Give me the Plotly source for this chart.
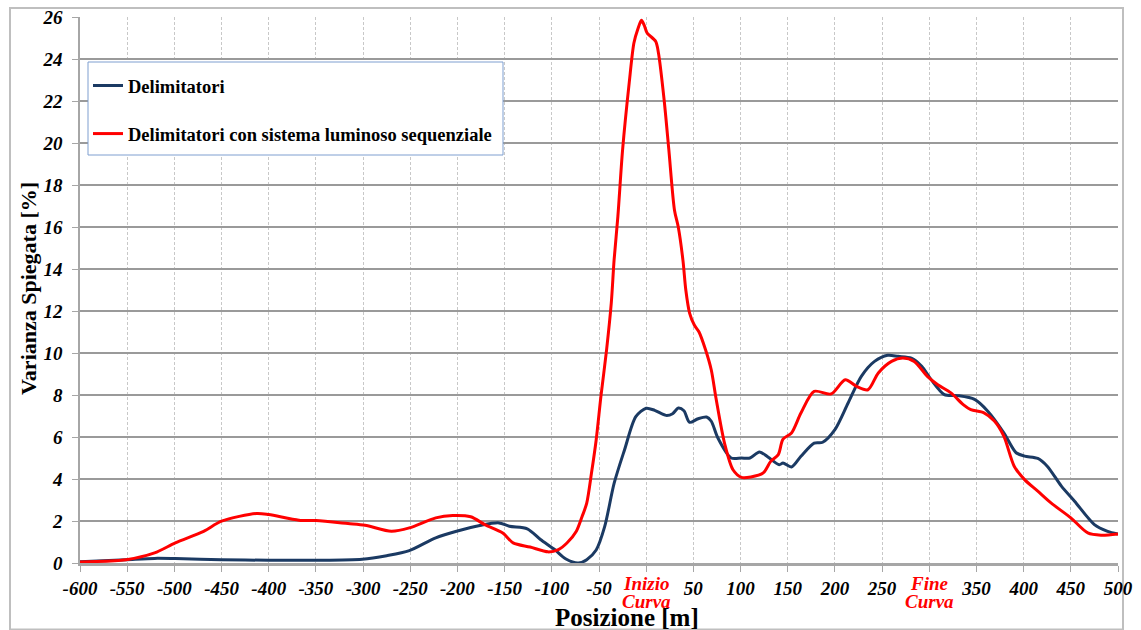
import plotly.graph_objects as go

# Posizione [m] and varianza spiegata [%] for the two configurations
pos_delim = [-600, -551, -521, -499, -450, -400, -351, -301, -275, -251, -223, -201, -175, -156,
             -145, -126, -112, -97, -85, -72, -63, -53, -44, -34, -23, -11, 0, 9, 21, 28, 34,
             40, 46, 55, 64, 69, 76, 90, 101, 110, 120, 129, 141, 145, 154, 164, 178, 187, 200,
             214, 228, 242, 256, 267, 281, 292, 302, 316, 330, 348, 362, 379, 392, 401, 415,
             425, 440, 454, 475, 489, 500]
var_delim = [0.06, 0.16, 0.22, 0.21, 0.16, 0.13, 0.13, 0.18, 0.35, 0.59, 1.2, 1.51, 1.80, 1.91,
             1.75, 1.63, 1.12, 0.64, 0.19, 0.0, 0.16, 0.62, 1.73, 3.79, 5.38, 6.97, 7.37, 7.27,
             7.03, 7.11, 7.38, 7.25, 6.70, 6.87, 6.95, 6.75, 5.95, 5.0, 5.0, 5.0, 5.29, 5.05,
             4.68, 4.76, 4.57, 5.08, 5.71, 5.75, 6.35, 7.62, 8.89, 9.6, 9.89, 9.84, 9.76, 9.37,
             8.73, 8.02, 7.97, 7.79, 7.23, 6.2, 5.25, 5.09, 4.98, 4.61, 3.66, 2.94, 1.83, 1.51,
             1.38]

pos_seq = [-600, -551, -521, -499, -469, -450, -413, -400, -368, -350, -316, -298, -270, -251,
           -223, -205, -186, -171, -152, -141, -123, -104, -93, -84, -74, -68, -63, -58, -53,
           -48, -42, -37, -34, -30, -25, -18, -13, -9, -5, -2, 1, 10, 13, 19, 24, 30, 34, 39,
           42, 46, 51, 56, 63, 69, 74, 83, 92, 101, 111, 124, 132, 140, 145, 154, 164, 178,
           196, 211, 223, 235, 246, 260, 272, 284, 298, 309, 323, 336, 344, 358, 369, 379, 390,
           401, 415, 429, 450, 468, 482, 500]
var_seq = [0.05, 0.16, 0.48, 0.96, 1.51, 1.99, 2.36, 2.31, 2.04, 2.02, 1.88, 1.80, 1.51, 1.67,
           2.15, 2.26, 2.20, 1.83, 1.43, 0.96, 0.76, 0.53, 0.64, 0.95, 1.51, 2.2, 2.85, 4.27,
           5.86, 7.92, 10.14, 12.37, 14.43, 16.5, 19.67, 22.86, 24.76, 25.4, 25.84, 25.6, 25.24,
           24.84, 24.29, 22.06, 19.68, 16.8, 16.0, 14.4, 13.0, 11.9, 11.33, 11.0, 10.14, 9.19,
           7.84, 5.71, 4.44, 4.08, 4.10, 4.29, 4.84, 5.16, 5.90, 6.19, 7.14, 8.17, 8.05, 8.73,
           8.41, 8.25, 9.05, 9.6, 9.76, 9.6, 8.89, 8.49, 8.1, 7.54, 7.3, 7.15, 6.76, 6.04, 4.61,
           3.97, 3.42, 2.86, 2.15, 1.43, 1.32, 1.38]

# x tick labels; the curve start / end positions get a two-line red label instead
x_ticks = list(range(-600, 501, 50))
curve_marks = {0: ("Inizio", "Curva"), 300: ("Fine", "Curva")}
x_labels = ["" if v in curve_marks else str(v) for v in x_ticks]

series_names = ["Delimitatori", "Delimitatori con sistema luminoso sequenziale"]

SERIF = "Liberation Serif"
W, H = 1141, 630
L, R, T, B = 80, 23, 17, 67
pw, ph = W - L - R, H - T - B


def px_to_paper_x(px):
    return (px - L) / pw


def px_to_paper_y(py):
    return (H - B - py) / ph


fig = go.Figure()
fig.add_trace(go.Scatter(
    x=pos_delim, y=var_delim, mode="lines", name=series_names[0],
    line=dict(color="#1b3a63", width=3, shape="spline", smoothing=0.8),
    legendgroup="a"))
fig.add_trace(go.Scatter(
    x=pos_seq, y=var_seq, mode="lines", name=series_names[1],
    line=dict(color="#ff0000", width=3, shape="spline", smoothing=0.8),
    legendgroup="b"))

# outer chart frame and legend box
fig.add_shape(type="rect", xref="paper", yref="paper",
              x0=px_to_paper_x(10), x1=px_to_paper_x(1123),
              y0=px_to_paper_y(629.5), y1=px_to_paper_y(8),
              line=dict(color="#bfbfbf", width=2), fillcolor="rgba(0,0,0,0)", layer="below")
fig.add_shape(type="rect", xref="paper", yref="paper",
              x0=px_to_paper_x(88), x1=px_to_paper_x(503),
              y0=px_to_paper_y(155), y1=px_to_paper_y(62),
              line=dict(color="#7f9fd0", width=1), fillcolor="white", layer="above")

label_font = dict(family=SERIF, size=19, color="#ff0000", weight="bold", style="italic")
for xv, (first, second) in curve_marks.items():
    fig.add_annotation(text=first, x=xv, xref="x", yref="paper", y=px_to_paper_y(583),
                       showarrow=False, xanchor="center", yanchor="middle", font=label_font)
    fig.add_annotation(text=second, x=xv, xref="x", yref="paper", y=px_to_paper_y(601),
                       showarrow=False, xanchor="center", yanchor="middle", font=label_font)

fig.add_annotation(text="<b>Posizione [m]</b>", xref="paper", yref="paper",
                   x=px_to_paper_x(627), y=px_to_paper_y(617), showarrow=False,
                   xanchor="center", yanchor="middle",
                   font=dict(family=SERIF, size=25, color="black"))
fig.add_annotation(text="<b>Varianza Spiegata [%]</b>", xref="paper", yref="paper",
                   x=px_to_paper_x(28), y=px_to_paper_y(289), showarrow=False, textangle=-90,
                   xanchor="center", yanchor="middle",
                   font=dict(family=SERIF, size=22, color="black"))

fig.update_layout(
    width=W, height=H,
    margin=dict(l=L, r=R, t=T, b=B),
    paper_bgcolor="white", plot_bgcolor="white",
    showlegend=True,
    legend=dict(x=px_to_paper_x(88), y=px_to_paper_y(67), xanchor="left", yanchor="top",
                bgcolor="rgba(0,0,0,0)", borderwidth=0, traceorder="grouped",
                tracegroupgap=21,
                font=dict(family=SERIF, size=18.5, color="black", weight="bold")),
    xaxis=dict(range=[-600, 500], tickvals=x_ticks, ticktext=x_labels, automargin=False,
               showgrid=True, gridcolor="#c8c8c8", griddash="3px,2px", gridwidth=1,
               showline=True, linecolor="#a6a6a6", linewidth=3,
               ticks="outside", ticklen=6, tickcolor="#a6a6a6", tickwidth=1,
               zeroline=False,
               tickfont=dict(family=SERIF, size=19, color="black", weight="bold",
                             style="italic")),
    yaxis=dict(range=[0, 26], dtick=2, tick0=0, automargin=False,
               showgrid=True, gridcolor="#9a9a9a", gridwidth=1.5,
               showline=True, linecolor="#a6a6a6", linewidth=1.5,
               ticks="outside", ticklen=6, tickcolor="#a6a6a6",
               zeroline=False, ticklabelstandoff=6,
               tickfont=dict(family=SERIF, size=19, color="black", weight="bold",
                             style="italic")),
)

fig.write_html("out.html")
